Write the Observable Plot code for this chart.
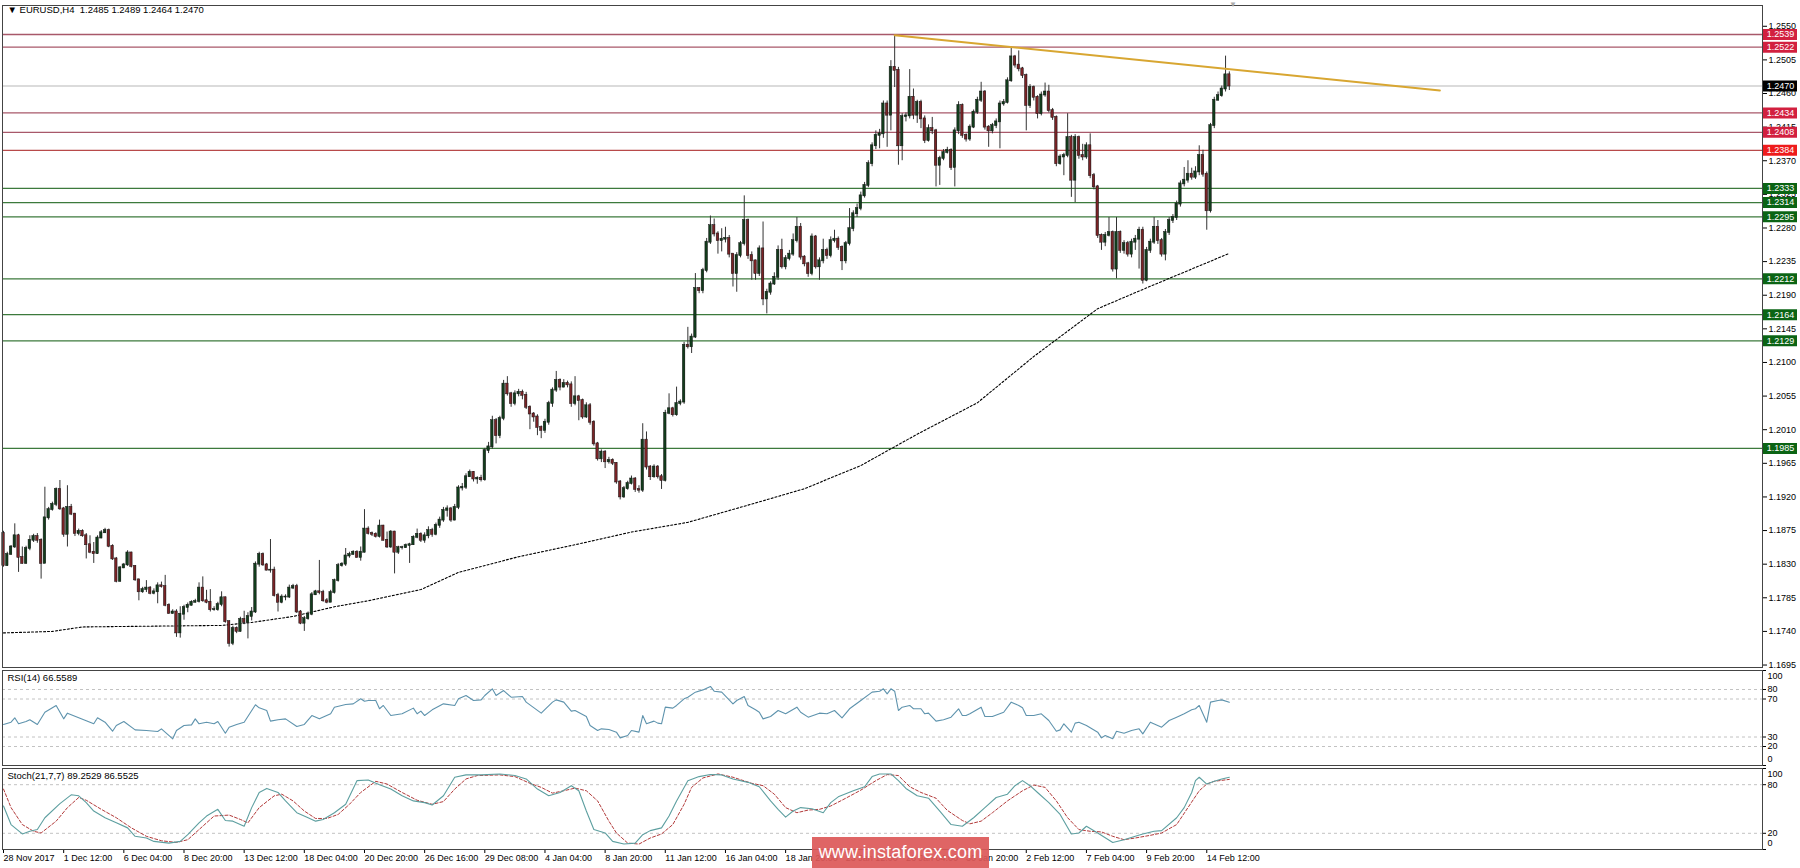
<!DOCTYPE html>
<html><head><meta charset="utf-8">
<script src="https://cdn.jsdelivr.net/npm/d3@7"></script>
<script src="https://cdn.jsdelivr.net/npm/@observablehq/plot@0.6"></script>
<style>
body{margin:0;background:#fff;}
#wrap{position:relative;width:1800px;height:868px;overflow:hidden;background:#fff;}
#wm{position:absolute;left:812px;top:837px;width:177px;height:31px;background:rgba(220,88,88,0.92);color:#fff;font:18px "Liberation Sans",Arial,sans-serif;display:flex;align-items:center;justify-content:center;letter-spacing:0.2px;}
</style></head><body><div id="wrap"></div>
<script>
// ---------- DATA ----------
const symbolHeader = "\u25BC EURUSD,H4\u00a0\u00a01.2485 1.2489 1.2464 1.2470";
const rsiHeader = "RSI(14) 66.5589";
const stochHeader = "Stoch(21,7,7) 89.2529 86.5525";

const open = [
1.1871,1.1828,1.1843,1.1853,1.1868,1.1839,1.1831,1.1851,1.1862,1.1867,
1.1862,1.1831,1.1892,1.1903,1.1910,1.1930,1.1904,1.1870,1.1906,1.1897,
1.1871,1.1874,1.1868,1.1856,1.1846,1.1844,1.1865,1.1872,1.1875,1.1854,
1.1837,1.1807,1.1825,1.1829,1.1845,1.1827,1.1809,1.1793,1.1796,1.1798,
1.1791,1.1793,1.1801,1.1800,1.1775,1.1764,1.1766,1.1738,1.1763,1.1772,
1.1775,1.1779,1.1780,1.1798,1.1781,1.1779,1.1769,1.1769,1.1776,1.1785,
1.1753,1.1724,1.1744,1.1740,1.1756,1.1752,1.1760,1.1766,1.1830,1.1843,
1.1829,1.1822,1.1822,1.1788,1.1779,1.1786,1.1786,1.1798,1.1800,1.1766,
1.1751,1.1757,1.1763,1.1789,1.1793,1.1792,1.1781,1.1779,1.1792,1.1808,
1.1828,1.1830,1.1841,1.1843,1.1846,1.1839,1.1846,1.1877,1.1871,1.1870,
1.1867,1.1881,1.1862,1.1853,1.1873,1.1846,1.1852,1.1852,1.1855,1.1856,
1.1866,1.1870,1.1862,1.1868,1.1875,1.1870,1.1882,1.1889,1.1902,1.1904,
1.1889,1.1906,1.1932,1.1933,1.1947,1.1953,1.1944,1.1945,1.1943,1.1982,
1.1987,1.2022,1.2002,1.2025,1.2071,1.2058,1.2045,1.2058,1.2060,1.2056,
1.2040,1.2031,1.2027,1.2013,1.2009,1.2020,1.2045,1.2063,1.2076,1.2067,
1.2072,1.2070,1.2045,1.2054,1.2049,1.2027,1.2042,1.2020,1.1991,1.1971,
1.1980,1.1967,1.1969,1.1965,1.1940,1.1920,1.1931,1.1938,1.1944,1.1930,
1.1929,1.1996,1.1960,1.1947,1.1960,1.1947,1.1942,1.2032,1.2038,1.2030,
1.2045,1.2047,1.2123,1.2121,1.2134,1.2199,1.2196,1.2223,1.2261,1.2283,
1.2272,1.2263,1.2265,1.2266,1.2245,1.2219,1.2243,1.2259,1.2290,1.2243,
1.2236,1.2219,1.2252,1.2185,1.2194,1.2205,1.2214,1.2250,1.2228,1.2239,
1.2245,1.2263,1.2281,1.2241,1.2232,1.2219,1.2268,1.2228,1.2236,1.2250,
1.2243,1.2263,1.2265,1.2254,1.2236,1.2259,1.2279,1.2299,1.2306,1.2323,
1.2337,1.2366,1.2390,1.2404,1.2406,1.2446,1.2431,1.2495,1.2491,1.2390,
1.2429,1.2430,1.2455,1.2431,1.2448,1.2426,1.2397,1.2413,1.2410,1.2364,
1.2373,1.2381,1.2384,1.2361,1.2410,1.2444,1.2404,1.2399,1.2415,1.2435,
1.2451,1.2462,1.2415,1.2410,1.2417,1.2422,1.2446,1.2448,1.2477,1.2509,
1.2498,1.2493,1.2484,1.2444,1.2468,1.2455,1.2433,1.2458,1.2462,1.2437,
1.2428,1.2366,1.2375,1.2377,1.2401,1.2344,1.2401,1.2377,1.2375,1.2390,
1.2350,1.2335,1.2270,1.2261,1.2270,1.2274,1.2225,1.2274,1.2250,1.2259,
1.2245,1.2261,1.2265,1.2277,1.2210,1.2250,1.2261,1.2281,1.2263,1.2245,
1.2274,1.2290,1.2294,1.2312,1.2339,1.2344,1.2352,1.2348,1.2355,1.2377,
1.2352,1.2303,1.2417,1.2451,1.2457,1.2466,1.2485];

const high = [
1.1874,1.1846,1.1855,1.1884,1.1870,1.1853,1.1854,1.1868,1.1870,1.1871,
1.1864,1.1933,1.1906,1.1913,1.1932,1.1942,1.1906,1.1935,1.1910,1.1898,
1.1877,1.1876,1.1871,1.1868,1.1859,1.1868,1.1875,1.1878,1.1877,1.1856,
1.1839,1.1827,1.1831,1.1848,1.1846,1.1828,1.1810,1.1799,1.1808,1.1800,
1.1797,1.1805,1.1806,1.1815,1.1777,1.1769,1.1769,1.1773,1.1775,1.1778,
1.1781,1.1783,1.1805,1.1813,1.1795,1.1796,1.1773,1.1779,1.1793,1.1786,
1.1754,1.1747,1.1746,1.1759,1.1767,1.1765,1.1772,1.1833,1.1846,1.1845,
1.1831,1.1863,1.1826,1.1791,1.1789,1.1789,1.1802,1.1803,1.1803,1.1768,
1.1760,1.1766,1.1792,1.1795,1.1835,1.1795,1.1784,1.1795,1.1810,1.1831,
1.1832,1.1851,1.1846,1.1848,1.1848,1.1853,1.1903,1.1880,1.1873,1.1872,
1.1889,1.1882,1.1873,1.1875,1.1874,1.1854,1.1854,1.1857,1.1858,1.1868,
1.1877,1.1872,1.1872,1.1880,1.1878,1.1885,1.1893,1.1906,1.1908,1.1906,
1.1910,1.1935,1.1938,1.1951,1.1956,1.1954,1.1947,1.1949,1.1985,1.1993,
1.2028,1.2025,1.2028,1.2076,1.2081,1.2060,1.2062,1.2064,1.2063,1.2060,
1.2042,1.2033,1.2030,1.2015,1.2024,1.2048,1.2066,1.2088,1.2078,1.2077,
1.2075,1.2074,1.2081,1.2056,1.2051,1.2046,1.2045,1.2022,1.1993,1.1983,
1.1982,1.1973,1.1971,1.1966,1.1942,1.1934,1.1941,1.1948,1.1946,1.1935,
1.2018,1.2007,1.1962,1.1963,1.1962,1.1950,1.2036,1.2058,1.2040,1.2067,
1.2050,1.2127,1.2147,1.2138,1.2219,1.2200,1.2226,1.2266,1.2296,1.2292,
1.2275,1.2279,1.2281,1.2270,1.2245,1.2247,1.2262,1.2323,1.2292,1.2248,
1.2237,1.2256,1.2288,1.2198,1.2208,1.2220,1.2256,1.2265,1.2243,1.2250,
1.2272,1.2294,1.2286,1.2243,1.2234,1.2272,1.2270,1.2240,1.2265,1.2253,
1.2268,1.2277,1.2268,1.2256,1.2262,1.2306,1.2303,1.2312,1.2328,1.2341,
1.2370,1.2394,1.2410,1.2412,1.2450,1.2450,1.2504,1.2538,1.2495,1.2433,
1.2434,1.2492,1.2466,1.2451,1.2451,1.2430,1.2418,1.2428,1.2412,1.2376,
1.2385,1.2388,1.2386,1.2414,1.2449,1.2446,1.2406,1.2418,1.2438,1.2455,
1.2475,1.2464,1.2417,1.2420,1.2426,1.2450,1.2452,1.2481,1.2522,1.2511,
1.2517,1.2495,1.2486,1.2472,1.2470,1.2457,1.2462,1.2474,1.2471,1.2440,
1.2430,1.2378,1.2380,1.2433,1.2404,1.2405,1.2403,1.2392,1.2394,1.2406,
1.2353,1.2337,1.2272,1.2274,1.2294,1.2276,1.2294,1.2276,1.2263,1.2262,
1.2265,1.2270,1.2281,1.2281,1.2254,1.2265,1.2294,1.2290,1.2266,1.2278,
1.2294,1.2298,1.2316,1.2343,1.2361,1.2370,1.2360,1.2362,1.2390,1.2384,
1.2355,1.2420,1.2455,1.2462,1.2470,1.2510,1.2489];

const low = [
1.1826,1.1827,1.1842,1.1851,1.1819,1.1830,1.1830,1.1848,1.1859,1.1858,
1.1810,1.1831,1.1889,1.1901,1.1907,1.1902,1.1866,1.1853,1.1895,1.1867,
1.1868,1.1866,1.1837,1.1844,1.1831,1.1843,1.1864,1.1871,1.1852,1.1835,
1.1805,1.1806,1.1824,1.1827,1.1825,1.1807,1.1781,1.1791,1.1792,1.1789,
1.1789,1.1777,1.1798,1.1773,1.1763,1.1763,1.1732,1.1731,1.1755,1.1765,
1.1774,1.1778,1.1778,1.1779,1.1777,1.1766,1.1767,1.1767,1.1773,1.1751,
1.1719,1.1721,1.1737,1.1739,1.1749,1.1730,1.1754,1.1764,1.1826,1.1827,
1.1821,1.1818,1.1786,1.1766,1.1777,1.1781,1.1784,1.1796,1.1764,1.1749,
1.1740,1.1755,1.1761,1.1788,1.1789,1.1779,1.1777,1.1779,1.1790,1.1806,
1.1826,1.1827,1.1838,1.1842,1.1838,1.1834,1.1845,1.1869,1.1867,1.1865,
1.1865,1.1861,1.1851,1.1851,1.1817,1.1843,1.1849,1.1851,1.1831,1.1855,
1.1864,1.1859,1.1858,1.1864,1.1866,1.1868,1.1878,1.1886,1.1893,1.1886,
1.1888,1.1903,1.1928,1.1930,1.1946,1.1940,1.1937,1.1940,1.1941,1.1978,
1.1984,1.1991,1.1998,1.2022,1.2055,1.2040,1.2042,1.2054,1.2050,1.2037,
1.2010,1.2020,1.2002,1.1998,1.2005,1.2016,1.2040,1.2060,1.2062,1.2066,
1.2066,1.2040,1.2042,1.2022,1.2024,1.2025,1.2016,1.1988,1.1968,1.1966,
1.1958,1.1964,1.1962,1.1937,1.1916,1.1918,1.1929,1.1936,1.1926,1.1925,
1.1926,1.1956,1.1942,1.1945,1.1944,1.1930,1.1940,1.2030,1.2027,1.2028,
1.2042,1.2044,1.2118,1.2112,1.2132,1.2192,1.2192,1.2220,1.2258,1.2268,
1.2245,1.2248,1.2260,1.2240,1.2201,1.2194,1.2240,1.2256,1.2238,1.2210,
1.2210,1.2215,1.2176,1.2165,1.2190,1.2203,1.2210,1.2225,1.2224,1.2236,
1.2242,1.2260,1.2237,1.2228,1.2214,1.2216,1.2225,1.2210,1.2232,1.2238,
1.2240,1.2260,1.2250,1.2223,1.2232,1.2256,1.2275,1.2294,1.2303,1.2320,
1.2334,1.2362,1.2385,1.2386,1.2400,1.2388,1.2410,1.2468,1.2364,1.2370,
1.2422,1.2426,1.2425,1.2420,1.2413,1.2393,1.2395,1.2405,1.2335,1.2337,
1.2370,1.2379,1.2357,1.2335,1.2405,1.2400,1.2395,1.2396,1.2413,1.2432,
1.2448,1.2411,1.2388,1.2406,1.2413,1.2386,1.2443,1.2446,1.2475,1.2494,
1.2489,1.2480,1.2410,1.2440,1.2450,1.2426,1.2430,1.2455,1.2434,1.2424,
1.2362,1.2364,1.2350,1.2374,1.2321,1.2314,1.2372,1.2370,1.2372,1.2346,
1.2331,1.2266,1.2250,1.2255,1.2268,1.2221,1.2212,1.2246,1.2245,1.2241,
1.2240,1.2250,1.2225,1.2205,1.2208,1.2246,1.2258,1.2258,1.2241,1.2236,
1.2270,1.2286,1.2290,1.2308,1.2335,1.2340,1.2344,1.2345,1.2350,1.2348,
1.2277,1.2300,1.2413,1.2450,1.2455,1.2462,1.2464];

const close = [
1.1828,1.1843,1.1853,1.1868,1.1839,1.1831,1.1851,1.1862,1.1867,1.1862,
1.1831,1.1892,1.1903,1.1910,1.1930,1.1904,1.1870,1.1906,1.1897,1.1871,
1.1874,1.1868,1.1856,1.1846,1.1844,1.1865,1.1872,1.1875,1.1854,1.1837,
1.1807,1.1825,1.1829,1.1845,1.1827,1.1809,1.1793,1.1796,1.1798,1.1791,
1.1793,1.1801,1.1800,1.1775,1.1764,1.1766,1.1738,1.1763,1.1772,1.1775,
1.1779,1.1780,1.1798,1.1781,1.1779,1.1769,1.1769,1.1776,1.1785,1.1753,
1.1724,1.1744,1.1740,1.1756,1.1752,1.1760,1.1766,1.1830,1.1843,1.1829,
1.1822,1.1822,1.1788,1.1779,1.1786,1.1786,1.1798,1.1800,1.1766,1.1751,
1.1757,1.1763,1.1789,1.1793,1.1792,1.1781,1.1779,1.1792,1.1808,1.1828,
1.1830,1.1841,1.1843,1.1846,1.1839,1.1846,1.1877,1.1871,1.1870,1.1867,
1.1881,1.1862,1.1853,1.1873,1.1846,1.1852,1.1852,1.1855,1.1856,1.1866,
1.1870,1.1862,1.1868,1.1875,1.1870,1.1882,1.1889,1.1902,1.1904,1.1889,
1.1906,1.1932,1.1933,1.1947,1.1953,1.1944,1.1945,1.1943,1.1982,1.1987,
1.2022,1.2002,1.2025,1.2071,1.2058,1.2045,1.2058,1.2060,1.2056,1.2040,
1.2031,1.2027,1.2013,1.2009,1.2020,1.2045,1.2063,1.2076,1.2067,1.2072,
1.2070,1.2045,1.2054,1.2049,1.2027,1.2042,1.2020,1.1991,1.1971,1.1980,
1.1967,1.1969,1.1965,1.1940,1.1920,1.1931,1.1938,1.1944,1.1930,1.1929,
1.1996,1.1960,1.1947,1.1960,1.1947,1.1942,1.2032,1.2038,1.2030,1.2045,
1.2047,1.2123,1.2121,1.2134,1.2199,1.2196,1.2223,1.2261,1.2283,1.2272,
1.2263,1.2265,1.2266,1.2245,1.2219,1.2243,1.2259,1.2290,1.2243,1.2236,
1.2219,1.2252,1.2185,1.2194,1.2205,1.2214,1.2250,1.2228,1.2239,1.2245,
1.2263,1.2281,1.2241,1.2232,1.2219,1.2268,1.2228,1.2236,1.2250,1.2243,
1.2263,1.2265,1.2254,1.2236,1.2259,1.2279,1.2299,1.2306,1.2323,1.2337,
1.2366,1.2390,1.2404,1.2406,1.2446,1.2431,1.2495,1.2491,1.2390,1.2429,
1.2430,1.2455,1.2431,1.2448,1.2426,1.2397,1.2413,1.2410,1.2364,1.2373,
1.2381,1.2384,1.2361,1.2410,1.2444,1.2404,1.2399,1.2415,1.2435,1.2451,
1.2462,1.2415,1.2410,1.2417,1.2422,1.2446,1.2448,1.2477,1.2509,1.2498,
1.2493,1.2484,1.2444,1.2468,1.2455,1.2433,1.2458,1.2462,1.2437,1.2428,
1.2366,1.2375,1.2377,1.2401,1.2344,1.2401,1.2377,1.2375,1.2390,1.2350,
1.2335,1.2270,1.2261,1.2270,1.2274,1.2225,1.2274,1.2250,1.2259,1.2245,
1.2261,1.2265,1.2277,1.2210,1.2250,1.2261,1.2281,1.2263,1.2245,1.2274,
1.2290,1.2294,1.2312,1.2339,1.2344,1.2352,1.2348,1.2355,1.2377,1.2352,
1.2303,1.2417,1.2451,1.2457,1.2466,1.2485,1.2470];

// dotted moving average [bar, price]
const maLine = [[0,1.1738],[13,1.1740],[21,1.1746],[39,1.1747],[58,1.1748],[66,1.1752],[77,1.1760],[88,1.1773],[97,1.1781],[111,1.1796],[121,1.1819],[137,1.1840],[152,1.1856],[167,1.1873],[182,1.1886],[198,1.1909],[213,1.1931],[228,1.1962],[243,1.2004],[259,1.2046],[274,1.2108],[291,1.2172],[305,1.2202],[326,1.2246]];

// trend line (bar, price)
const trendBars = [237, 382];
const trendPrices = [1.2538, 1.2464];

// horizontal levels
const resistanceLevels = [1.2539, 1.2522, 1.2434, 1.2408, 1.2384];
const supportLevels = [1.2333, 1.2314, 1.2295, 1.2212, 1.2164, 1.2129, 1.1985];
const lastPrice = 1.2470;
const priceTicks = [1.1695,1.1740,1.1785,1.1830,1.1875,1.1920,1.1965,1.2010,1.2055,1.2100,1.2145,1.2190,1.2235,1.2280,1.2325,1.2370,1.2415,1.2460,1.2505,1.2550];

// x axis ticks (bar index) and labels
const tickBars = [0,16,32,48,64,80,96,112,128,144,160,176,192,208,224,240,256,272,288,304,320];
const tickLabels = ["28 Nov 2017","1 Dec 12:00","6 Dec 04:00","8 Dec 20:00","13 Dec 12:00","18 Dec 04:00","20 Dec 20:00","26 Dec 16:00","29 Dec 08:00","4 Jan 04:00","8 Jan 20:00","11 Jan 12:00","16 Jan 04:00","18 Jan 20:00","23 Jan 12:00","26 Jan 04:00","30 Jan 20:00","2 Feb 12:00","7 Feb 04:00","9 Feb 20:00","14 Feb 12:00"];

// RSI(14) [bar, value]
const rsi = [[0,43.2],[2,45.6],[3,50.2],[4,43.9],[6,46.3],[7,48.1],[9,43.2],[11,56.1],[14,63.2],[16,49.1],[17,55.1],[20,50.2],[24,43.9],[25,50.2],[27,45.6],[29,36.1],[30,42.1],[32,46.3],[35,37.5],[38,36.8],[41,35.8],[42,38.6],[45,28.1],[46,36.8],[48,42.1],[50,42.8],[51,49.1],[52,43.9],[54,45.6],[56,43.9],[57,46.3],[59,34.0],[60,40.3],[62,43.2],[64,45.6],[67,63.9],[68,60.7],[70,57.9],[71,46.7],[73,48.1],[75,49.1],[78,41.1],[80,43.2],[82,52.6],[84,49.1],[87,54.4],[88,61.4],[91,64.2],[93,64.9],[95,70.2],[96,67.7],[97,68.4],[99,68.4],[100,59.7],[101,63.2],[103,52.6],[106,54.4],[109,60.4],[110,54.4],[111,57.2],[112,52.6],[114,58.6],[117,64.9],[120,63.2],[121,70.2],[123,73.7],[125,68.4],[127,69.1],[128,73.7],[130,80.7],[131,73.7],[133,78.9],[135,71.9],[138,72.6],[139,66.7],[143,55.1],[146,66.7],[147,69.1],[149,66.7],[151,57.2],[152,57.9],[155,51.6],[156,42.1],[158,36.8],[159,38.6],[161,37.9],[163,35.1],[164,29.1],[166,31.6],[167,36.8],[169,35.1],[170,52.6],[171,43.9],[173,46.7],[174,44.6],[175,43.9],[176,61.4],[178,60.4],[179,63.2],[181,70.2],[182,71.9],[184,77.2],[186,79.6],[188,83.2],[189,78.2],[191,77.2],[194,64.9],[195,68.4],[197,72.6],[198,63.2],[200,58.6],[201,56.1],[202,49.1],[204,51.6],[206,57.9],[208,54.4],[211,61.4],[212,56.1],[214,50.9],[217,55.1],[219,54.4],[221,57.9],[223,50.2],[225,59.7],[228,68.4],[231,77.2],[233,78.2],[234,80.7],[235,75.4],[236,80.7],[237,78.2],[238,57.9],[239,61.4],[241,63.2],[242,59.7],[244,59.7],[245,54.4],[246,55.1],[248,46.7],[250,48.1],[252,50.9],[254,59.7],[255,52.6],[256,52.6],[257,54.4],[260,61.4],[261,51.6],[263,51.6],[266,56.1],[268,66.7],[270,63.2],[271,60.7],[272,52.6],[274,52.6],[276,54.4],[278,47.4],[280,36.1],[281,37.5],[282,43.9],[284,35.1],[285,44.6],[286,45.6],[288,42.1],[291,35.1],[292,29.1],[293,31.6],[295,28.1],[296,36.1],[298,34.0],[300,36.8],[302,38.6],[303,33.3],[305,45.6],[308,40.3],[310,47.4],[312,50.9],[314,54.4],[316,58.6],[317,59.7],[318,63.2],[320,45.6],[321,66.7],[323,68.4],[324,69.1],[326,66.6]];
const rsiLevels = [80, 70, 30, 20];
const rsiTicks = [0, 20, 30, 70, 80, 100];

// Stochastic(21,7,7) main and signal [bar, value]
const stochMain = [[0,53.7],[2,30.8],[5,19.2],[7,22.5],[9,24.6],[11,39.2],[15,56.7],[18,67.5],[20,66.3],[22,57.9],[24,47.5],[27,39.2],[30,32.9],[33,26.7],[35,16.3],[38,14.2],[40,10.0],[44,7.9],[47,10.0],[49,18.3],[52,32.9],[54,41.3],[57,49.6],[59,35.8],[61,35.0],[64,28.7],[66,51.7],[68,70.4],[70,75.4],[73,70.4],[75,60.0],[78,45.4],[81,39.2],[83,35.0],[85,37.1],[88,45.4],[91,55.8],[94,85.0],[97,85.8],[100,80.0],[103,74.6],[106,66.3],[109,60.0],[112,57.9],[114,55.0],[117,66.3],[120,89.2],[123,92.1],[127,92.1],[132,93.3],[136,91.3],[139,87.1],[142,74.6],[145,66.3],[148,70.4],[151,78.8],[153,72.5],[155,47.5],[157,24.6],[160,20.4],[162,10.0],[165,6.7],[168,7.9],[170,18.3],[172,23.3],[175,26.7],[177,41.3],[179,60.0],[182,85.0],[185,90.0],[188,92.5],[191,92.1],[194,87.1],[198,82.9],[201,77.5],[204,60.0],[206,49.6],[208,40.0],[210,47.5],[212,51.7],[215,50.4],[218,45.4],[220,57.9],[222,65.0],[226,72.5],[229,77.5],[231,90.0],[233,93.3],[236,93.3],[238,85.0],[240,75.4],[243,66.3],[246,63.3],[249,47.5],[252,30.8],[255,28.7],[258,39.2],[261,51.7],[264,64.2],[267,68.3],[269,78.8],[271,85.0],[273,78.8],[275,70.4],[278,57.9],[281,43.3],[284,19.2],[286,20.4],[288,28.7],[291,20.4],[295,8.7],[298,12.1],[301,16.3],[303,19.2],[306,22.5],[308,23.3],[312,39.2],[314,51.7],[316,70.4],[317,85.0],[318,89.2],[320,80.8],[322,84.2],[324,87.1],[326,89.25]];
const stochSignal = [[0,74.6],[2,51.7],[5,30.8],[8,22.5],[10,20.4],[14,35.0],[17,51.7],[20,64.2],[22,60.8],[26,49.6],[30,39.2],[34,26.7],[38,16.3],[42,10.8],[46,8.7],[49,12.1],[52,24.6],[56,41.3],[60,42.5],[63,37.1],[65,32.9],[68,51.7],[72,66.3],[74,68.3],[77,60.0],[80,47.5],[83,38.3],[86,38.3],[89,43.3],[92,55.8],[95,70.4],[99,84.2],[102,80.8],[106,70.4],[110,60.8],[114,55.8],[117,59.2],[120,74.6],[123,87.1],[126,91.3],[132,92.1],[136,90.0],[140,81.7],[143,76.7],[146,69.6],[149,72.5],[152,75.8],[155,72.5],[158,60.0],[159,51.7],[161,35.0],[163,20.4],[166,7.9],[169,6.7],[172,14.2],[175,19.2],[178,30.8],[181,55.8],[183,76.7],[186,88.3],[190,93.3],[194,89.2],[199,81.7],[202,78.8],[205,68.3],[208,51.7],[211,45.4],[214,48.7],[217,49.6],[220,53.7],[224,63.3],[228,73.3],[232,85.0],[235,92.5],[238,91.3],[241,77.5],[244,70.4],[248,63.3],[251,48.3],[255,35.8],[257,31.7],[260,35.0],[263,45.4],[267,60.0],[271,72.5],[274,79.6],[277,76.7],[280,60.0],[283,39.2],[286,24.6],[289,22.5],[292,21.7],[295,16.3],[298,12.1],[301,14.2],[305,17.5],[308,20.4],[312,30.8],[315,51.7],[318,72.5],[320,80.8],[322,84.2],[326,86.55]];
const stochLevels = [80, 20];
const stochTicks = [0, 20, 80, 100];

// ---------- BUILD ----------
const bars = close.map((c, i) => ({i, o: open[i], h: high[i], l: low[i], c}));
const trend = trendBars.map((b, k) => ({b, p: trendPrices[k]}));
const boxes = [
  ...resistanceLevels.map(v => ({v, color: v === 1.2384 ? "#ee1c1c" : "#d2203f"})),
  {v: lastPrice, color: "#000"},
  ...supportLevels.map(v => ({v, color: "#0b6414"}))
];

const FONT = "Liberation Sans, Arial, sans-serif";
const xDomain = [-0.27, 467.8];
const common = {width: 1800, marginLeft: 2, marginRight: 38,
  style: {fontFamily: FONT, fontSize: "9px", background: "transparent", color: "#000", overflow: "visible"}};
const wrap = document.getElementById("wrap");
function place(svg, top) {
  svg.style.position = "absolute"; svg.style.left = "0px"; svg.style.top = top + "px";
  wrap.appendChild(svg);
}
// right-axis labels for an oscillator panel: the end values are nudged inside the panel
function oscAxis(ticks) {
  const inner = ticks.filter(t => t !== 0 && t !== 100);
  return [
    Plot.axisY({anchor: "right", ticks, tickSize: 3, tickFormat: () => ""}),
    Plot.axisY({anchor: "right", ticks: inner, tickSize: 0, tickPadding: 5, fontSize: 9}),
    Plot.text([100], {y: d => d, text: d => String(d), frameAnchor: "right", textAnchor: "start", dx: 5, dy: 6, fontSize: 9}),
    Plot.text([0], {y: d => d, text: d => String(d), frameAnchor: "right", textAnchor: "start", dx: 5, dy: -6, fontSize: 9})
  ];
}

const bull = "#123d1c", bear = "#7a2326";

const main = Plot.plot({
  ...common, height: 668, marginTop: 5, marginBottom: 1,
  x: {domain: xDomain, axis: null},
  y: {domain: [1.16917, 1.25778], axis: null},
  marks: [
    Plot.ruleY(resistanceLevels, {stroke: d => d === 1.2384 ? "#b84a4a" : "#a8586a", strokeWidth: 1.3}),
    Plot.ruleY(supportLevels, {stroke: "#3c7a3c", strokeWidth: 1.3}),
    Plot.ruleY([lastPrice], {stroke: "#cfcfcf", strokeWidth: 1.6}),
    Plot.line(maLine, {x: d => d[0], y: d => d[1], stroke: "#000", strokeWidth: 1.1, strokeDasharray: "2,2"}),
    Plot.ruleX(bars, {x: "i", y1: "l", y2: "h", stroke: "#333", strokeWidth: 1}),
    Plot.rect(bars, {x1: d => d.i - 0.33, x2: d => d.i + 0.33, y1: "o", y2: "c",
      fill: d => d.c >= d.o ? bull : bear, stroke: "#111", strokeWidth: 0.5, insetTop: -0.5, insetBottom: -0.5}),
    Plot.line(trend, {x: "b", y: "p", stroke: "#d8a631", strokeWidth: 2}),
    Plot.axisY({anchor: "right", ticks: priceTicks, tickFormat: d => d.toFixed(4), tickSize: 4, tickPadding: 2, fontSize: 9}),
    Plot.frame({stroke: "#444"}),
    Plot.tickY(boxes, {y: "v", stroke: "color", strokeWidth: 11, insetLeft: 1761, insetRight: -35}),
    Plot.text(boxes, {y: "v", text: d => d.v.toFixed(4), frameAnchor: "right", textAnchor: "middle", dx: 18, fill: "#fff", fontSize: 9}),
    Plot.text([symbolHeader], {frameAnchor: "top-left", text: d => d, dx: 5, dy: 1, fontSize: 9.5}),
    Plot.text([327], {x: d => d, frameAnchor: "top", text: () => "\u25BC", dy: -4, fill: "#aaa", fontSize: 8})
  ]
});
place(main, 0);

const rsiPlot = Plot.plot({
  ...common, height: 97, marginTop: 1, marginBottom: 1,
  x: {domain: xDomain, axis: null},
  y: {domain: [0, 100], axis: null},
  marks: [
    Plot.ruleY(rsiLevels, {stroke: "#c2c2c2", strokeDasharray: "3,3"}),
    Plot.line(rsi, {x: d => d[0], y: d => d[1], stroke: "#5e93ad", strokeWidth: 1.1}),
    ...oscAxis(rsiTicks),
    Plot.frame({stroke: "#444"}),
    Plot.text([rsiHeader], {frameAnchor: "top-left", text: d => d, dx: 5, dy: 4, fontSize: 9.5})
  ]
});
place(rsiPlot, 669);

const stochPlot = Plot.plot({
  ...common, height: 101, marginTop: 1, marginBottom: 19,
  x: {domain: xDomain, axis: null},
  y: {domain: [0, 100], axis: null},
  marks: [
    Plot.ruleY(stochLevels, {stroke: "#c2c2c2", strokeDasharray: "3,3"}),
    Plot.line(stochSignal, {x: d => d[0], y: d => d[1], stroke: "#b23a3a", strokeWidth: 1, strokeDasharray: "3,2"}),
    Plot.line(stochMain, {x: d => d[0], y: d => d[1], stroke: "#5d9fa0", strokeWidth: 1.1}),
    ...oscAxis(stochTicks),
    Plot.axisX({anchor: "bottom", ticks: tickBars, tickFormat: d => tickLabels[tickBars.indexOf(d)],
      tickSize: 4, tickPadding: 1, textAnchor: "start", fontSize: 9}),
    Plot.frame({stroke: "#444"}),
    Plot.text([stochHeader], {frameAnchor: "top-left", text: d => d, dx: 5, dy: 4, fontSize: 9.5})
  ]
});
place(stochPlot, 767);

const wm = document.createElement("div");
wm.id = "wm"; wm.textContent = "www.instaforex.com";
wrap.appendChild(wm);
</script></body></html>
